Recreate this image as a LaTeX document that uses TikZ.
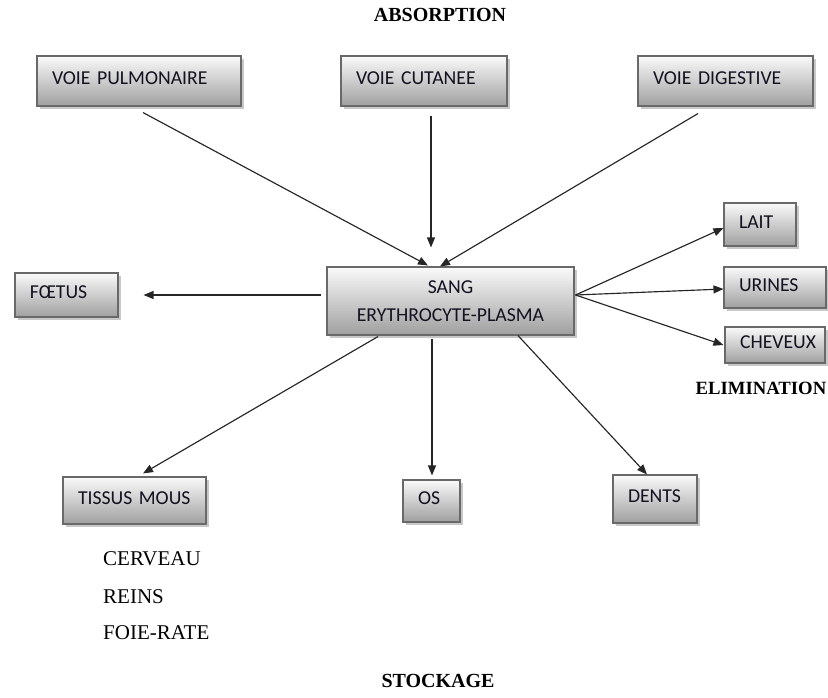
\documentclass[tikz,border=0pt]{standalone}
\usepackage{fontspec}
\setmainfont{Liberation Serif}
\newfontfamily\calibri{Carlito}
\usetikzlibrary{arrows.meta,shadows,calc}
\definecolor{boxtext}{RGB}{18,18,34}
\definecolor{boxborder}{RGB}{105,105,105}
\tikzset{
  boxnode/.style={draw=boxborder, line width=1.1pt,
    top color=gray!4, bottom color=gray!75,
    drop shadow={shadow xshift=2.5pt,shadow yshift=-2.5pt,opacity=.3,fill=black!70},
    inner xsep=15pt, inner ysep=0pt, align=left,
    font=\calibri\fontsize{19.7}{24}\selectfont, text=boxtext},
  onebox/.style={text depth=5pt},
  arr/.style={draw=black!85, line width=1.15pt, -{Triangle[length=10pt,width=8pt]}},
  boldlbl/.style={font=\bfseries\fontsize{20}{24}\selectfont, inner sep=0pt},
  plainlbl/.style={font=\fontsize{21}{24}\selectfont, inner sep=0pt, anchor=base west},
}
\newcommand{\mybox}[6]{% name, x1, x2, y1, y2, text
  \pgfmathsetmacro{\bw}{#3-#2}\pgfmathsetmacro{\bh}{#5-#4}
  \pgfmathsetmacro{\tw}{\bw-30}
  \node[boxnode, onebox, minimum width=\bw pt, minimum height=\bh pt, text width=\tw pt]
    (#1) at ({(#2+#3)/2},{(#4+#5)/2}) {#6};}
\begin{document}
\begin{tikzpicture}[x=1pt,y=-1pt]
\useasboundingbox (0,0) rectangle (828,697);
\fill[white] (0,0) rectangle (828,697);

\mybox{pulm}{37}{241}{56}{106}{VOIE PULMONAIRE}
\mybox{cut}{341}{507}{56}{106}{VOIE CUTANEE}
\mybox{dig}{638}{813}{56}{106}{VOIE DIGESTIVE}
\node[boxnode, align=center, minimum width=247pt, minimum height=68pt, text width=217pt]
  (sang) at (450.5,301) {SANG\\[4pt]ERYTHROCYTE-PLASMA};
\mybox{lait}{724}{796}{203}{246}{LAIT}
\mybox{urines}{724}{826}{267}{308}{URINES}
\mybox{cheveux}{725}{825}{327}{363}{CHEVEUX}
\mybox{foetus}{15}{118}{273}{317}{FŒTUS}
\mybox{tissus}{63}{206}{477}{524}{TISSUS MOUS}
\mybox{os}{403}{460}{480}{522}{OS}
\mybox{dents}{613}{697}{475}{523}{DENTS}

\node[boldlbl] (absorption) at (440,15) {ABSORPTION};
\node[boldlbl, font=\bfseries\fontsize{18.7}{22}\selectfont] (elimination) at (761,388) {ELIMINATION};
\node[boldlbl] (stockage) at (438,681) {STOCKAGE};
\node[plainlbl] (cerveau) at (103,565) {CERVEAU};
\node[plainlbl] (reins) at (103,603) {REINS};
\node[plainlbl] (foie) at (103,639) {FOIE-RATE};

\draw[arr] ($(pulm.south)+(4,6)$) -- ($(sang.north)+(-22.5,-1)$);
\draw[arr] ($(cut.south)+(7,9)$) -- ($(sang.north)+(-19.5,-19)$);
\draw[arr] ($(dig.south)+(-27.5,7)$) -- ($(sang.north)+(-10.5,0)$);
\coordinate (fan) at ($(sang.east)+(1,-6)$);
\draw[arr] (fan) -- ($(lait.west)+(0,3.5)$);
\draw[arr] (fan) -- ($(urines.west)+(0,1.5)$);
\draw[arr] (fan) -- ($(cheveux.west)+(-1,0)$);
\draw[arr] ($(sang.west)+(-5,-6)$) -- ($(foetus.east)+(25,0)$);
\draw[arr] ($(sang.south)+(-72.5,1)$) -- ($(tissus.north)+(8.5,-3)$);
\draw[arr] ($(sang.south)+(-18.5,3)$) -- ($(os.north)+(0.5,-4)$);
\draw[arr] ($(sang.south)+(67.5,0)$) -- ($(dents.north)+(-8,0)$);
\end{tikzpicture}
\end{document}
